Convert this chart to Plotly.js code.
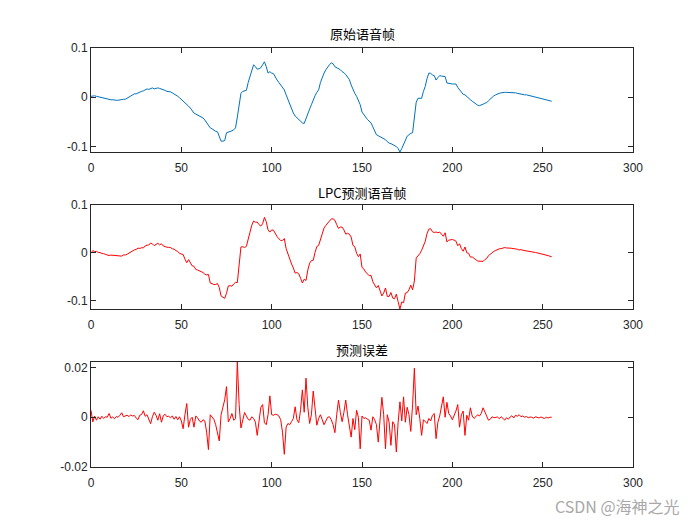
<!DOCTYPE html>
<html>
<head>
<meta charset="utf-8">
<script src="https://cdn.plot.ly/plotly-3.0.1.min.js"></script>
<style>html,body{margin:0;padding:0;background:#fff;}#chart{width:700px;height:525px;}</style>
</head>
<body>
<div id="chart"></div>
<script>
// sample index 0..255
var sampleIdx = [];
for (var k = 0; k < 256; k++) sampleIdx.push(k);

// 原始语音帧 (original frame)
var originalFrame = [
0.002,0.003,0.003,0.002,0.001,0.000,-0.001,-0.002,-0.003,-0.004,
-0.004,-0.005,-0.005,-0.006,-0.006,-0.006,-0.005,-0.005,-0.004,-0.004,
-0.002,0.000,0.002,0.004,0.007,0.007,0.009,0.010,0.012,0.013,
0.015,0.017,0.016,0.018,0.019,0.017,0.018,0.019,0.018,0.017,
0.015,0.014,0.012,0.012,0.011,0.009,0.007,0.005,0.002,-0.001,
-0.004,-0.008,-0.012,-0.015,-0.018,-0.022,-0.027,-0.032,-0.034,-0.036,
-0.039,-0.041,-0.042,-0.046,-0.052,-0.058,-0.062,-0.064,-0.067,-0.069,
-0.070,-0.082,-0.089,-0.089,-0.088,-0.072,-0.071,-0.069,-0.068,-0.066,
-0.062,-0.040,-0.019,0.008,0.012,0.013,0.014,0.030,0.042,0.058,
0.066,0.062,0.057,0.058,0.060,0.066,0.072,0.062,0.049,0.052,
0.049,0.048,0.040,0.035,0.030,0.025,0.020,0.015,0.005,-0.005,
-0.015,-0.025,-0.032,-0.038,-0.042,-0.046,-0.050,-0.052,-0.053,-0.042,
-0.032,-0.024,-0.015,-0.005,0.003,0.010,0.015,0.030,0.042,0.049,
0.056,0.062,0.066,0.070,0.068,0.062,0.060,0.058,0.056,0.052,
0.050,0.046,0.042,0.036,0.025,0.015,0.008,0.002,-0.008,-0.015,
-0.030,-0.034,-0.040,-0.045,-0.049,-0.052,-0.060,-0.068,-0.076,-0.078,
-0.080,-0.082,-0.083,-0.086,-0.090,-0.093,-0.094,-0.096,-0.099,-0.100,
-0.104,-0.111,-0.104,-0.096,-0.086,-0.079,-0.076,-0.073,-0.072,-0.039,
-0.010,-0.002,-0.002,-0.002,0.012,0.022,0.038,0.049,0.049,0.045,
0.044,0.035,0.040,0.044,0.043,0.043,0.042,0.029,0.028,0.028,
0.027,0.027,0.027,0.020,0.015,0.010,0.006,0.005,0.001,-0.002,
-0.005,-0.008,-0.011,-0.014,-0.016,-0.017,-0.016,-0.014,-0.012,-0.011,
-0.007,-0.003,0.000,0.003,0.005,0.007,0.008,0.009,0.010,0.010,
0.010,0.010,0.010,0.010,0.009,0.009,0.008,0.007,0.007,0.006,
0.005,0.005,0.004,0.003,0.003,0.002,0.001,0.000,-0.001,-0.002,
-0.003,-0.004,-0.005,-0.006,-0.007,-0.008
];

// LPC预测语音帧 (predicted frame)
var predictedFrame = [
-0.0008,0.0049,0.0025,0.0032,0.0008,0.0008,-0.0014,-0.0015,-0.0032,-0.0040,
-0.0055,-0.0046,-0.0051,-0.0054,-0.0063,-0.0060,-0.0058,-0.0068,-0.0042,-0.0044,
-0.0028,-0.0003,0.0011,0.0035,0.0063,0.0073,0.0100,0.0092,0.0109,0.0104,
0.0146,0.0160,0.0165,0.0206,0.0188,0.0150,0.0172,0.0202,0.0166,0.0190,
0.0144,0.0128,0.0118,0.0116,0.0112,0.0085,0.0078,0.0047,0.0030,-0.0012,
-0.0025,-0.0034,-0.0130,-0.0205,-0.0140,-0.0212,-0.0270,-0.0280,-0.0345,-0.0358,
-0.0375,-0.0390,-0.0410,-0.0445,-0.0460,-0.0450,-0.0630,-0.0642,-0.0662,-0.0660,
-0.0640,-0.0725,-0.0900,-0.0925,-0.0950,-0.0843,-0.0691,-0.0685,-0.0695,-0.0648,
-0.0615,-0.0622,-0.0240,0.0123,0.0130,0.0111,0.0135,0.0308,0.0432,0.0578,
0.0665,0.0640,0.0643,0.0590,0.0560,0.0609,0.0742,0.0650,0.0480,0.0434,
0.0480,0.0472,0.0388,0.0340,0.0295,0.0260,0.0260,0.0299,0.0090,-0.0025,
-0.0120,-0.0232,-0.0315,-0.0422,-0.0410,-0.0438,-0.0530,-0.0630,-0.0550,-0.0577,
-0.0360,-0.0215,-0.0160,-0.0155,0.0010,0.0132,0.0155,0.0290,0.0430,0.0520,
0.0575,0.0620,0.0658,0.0710,0.0710,0.0682,0.0590,0.0511,0.0540,0.0538,
0.0480,0.0391,0.0410,0.0390,0.0330,0.0155,0.0130,-0.0008,-0.0080,-0.0023,
-0.0305,-0.0335,-0.0398,-0.0442,-0.0478,-0.0468,-0.0602,-0.0670,-0.0730,-0.0680,
-0.0790,-0.0900,-0.0840,-0.0733,-0.0910,-0.0910,-0.0827,-0.0942,-0.0960,-0.0860,
-0.1020,-0.1172,-0.1025,-0.1042,-0.0840,-0.0830,-0.0770,-0.0673,-0.0770,-0.0587,
-0.0110,-0.0065,-0.0015,0.0053,0.0130,0.0240,0.0405,0.0495,0.0505,0.0442,
0.0425,0.0436,0.0420,0.0435,0.0390,0.0348,0.0420,0.0230,0.0265,0.0275,
0.0280,0.0265,0.0245,0.0149,0.0190,0.0090,0.0035,0.0123,0.0002,-0.0008,
-0.0088,-0.0085,-0.0105,-0.0142,-0.0170,-0.0175,-0.0175,-0.0178,-0.0140,-0.0118,
-0.0058,-0.0022,-0.0002,0.0032,0.0050,0.0069,0.0086,0.0088,0.0104,0.0112,
0.0102,0.0108,0.0099,0.0094,0.0093,0.0082,0.0076,0.0060,0.0068,0.0055,
0.0050,0.0047,0.0042,0.0029,0.0030,0.0024,0.0008,0.0000,-0.0007,-0.0021,
-0.0028,-0.0035,-0.0050,-0.0057,-0.0070,-0.0080
];

// 预测误差 (prediction error)
var predictionError = [
0.0028,-0.0019,0.0005,-0.0012,0.0002,-0.0008,0.0004,-0.0005,0.0002,0.0000,
0.0015,-0.0004,0.0001,-0.0006,0.0003,0.0000,0.0008,0.0018,0.0002,0.0004,
0.0008,0.0003,0.0009,0.0005,0.0007,-0.0003,-0.0010,0.0008,0.0011,0.0026,
0.0004,0.0010,-0.0005,-0.0026,0.0002,0.0020,0.0008,-0.0012,0.0014,-0.0020,
0.0006,0.0012,0.0002,0.0004,-0.0002,0.0005,-0.0008,0.0003,-0.0010,0.0002,
-0.0015,-0.0046,0.0010,0.0055,-0.0040,-0.0008,0.0000,-0.0040,0.0005,-0.0002,
-0.0015,-0.0020,-0.0010,-0.0015,-0.0060,-0.0130,0.0010,0.0002,-0.0008,-0.0030,
-0.0060,-0.0095,0.0010,0.0035,0.0070,0.0123,-0.0019,-0.0005,0.0015,-0.0012,
-0.0005,0.0222,0.0050,-0.0043,-0.0010,0.0019,0.0005,-0.0008,-0.0012,0.0002,
-0.0005,-0.0020,-0.0073,-0.0010,0.0040,0.0051,-0.0022,-0.0030,0.0010,0.0086,
0.0010,0.0008,0.0012,0.0010,0.0005,-0.0010,-0.0060,-0.0149,-0.0040,-0.0025,
-0.0030,-0.0018,-0.0005,0.0042,-0.0010,-0.0022,0.0030,0.0110,0.0020,0.0157,
0.0040,-0.0025,0.0010,0.0105,0.0020,-0.0032,-0.0005,0.0010,-0.0010,-0.0030,
-0.0015,0.0000,0.0002,-0.0010,-0.0030,-0.0062,0.0010,0.0069,0.0020,-0.0018,
0.0020,0.0069,0.0010,-0.0030,-0.0080,-0.0005,-0.0050,0.0028,0.0000,-0.0127,
0.0005,-0.0005,-0.0002,-0.0008,-0.0012,-0.0052,0.0002,-0.0010,-0.0030,-0.0100,
-0.0010,0.0080,0.0010,-0.0127,0.0010,-0.0020,-0.0113,-0.0018,-0.0030,-0.0140,
-0.0020,0.0062,-0.0015,0.0082,-0.0020,0.0040,0.0010,-0.0057,0.0050,0.0197,
0.0010,0.0045,-0.0005,-0.0073,-0.0010,-0.0020,-0.0025,-0.0005,-0.0015,0.0008,
0.0015,-0.0086,-0.0020,0.0005,0.0040,0.0082,0.0000,0.0060,0.0015,0.0005,
-0.0010,0.0005,0.0025,0.0051,-0.0040,0.0010,0.0025,-0.0073,0.0008,-0.0012,
0.0038,0.0005,-0.0005,0.0002,0.0010,0.0005,0.0015,0.0038,0.0020,0.0008,
-0.0012,-0.0008,0.0002,-0.0002,0.0000,0.0001,-0.0006,0.0002,-0.0004,-0.0012,
-0.0002,-0.0008,0.0001,0.0006,-0.0003,0.0008,0.0004,0.0010,0.0002,0.0005,
0.0000,0.0003,-0.0002,0.0001,0.0000,-0.0004,0.0002,0.0000,-0.0003,0.0001,
-0.0002,-0.0005,0.0000,-0.0003,0.0000,0.0000
];

var titles = ['原始语音帧', 'LPC预测语音帧', '预测误差'];
var xTickVals = [0, 50, 100, 150, 200, 250, 300];
var xTickText = ['0', '50', '100', '150', '200', '250', '300'];
var yTickVals1 = [-0.1, 0, 0.1];
var yTickText1 = ['-0.1', '0', '0.1'];
var yTickVals3 = [-0.02, 0, 0.02];
var yTickText3 = ['-0.02', '0', '0.02'];
var watermark = 'CSDN @海神之光';

var axisColor = '#262626';
var tickFont = {family: 'Liberation Sans, Arial, sans-serif', size: 12, color: axisColor};

function xAx(anchor) {
  return {
    anchor: anchor, range: [0, 300], tickvals: xTickVals, ticktext: xTickText,
    ticks: 'inside', ticklen: 5, tickcolor: axisColor, tickwidth: 1,
    showline: true, linecolor: axisColor, linewidth: 1, mirror: 'ticks',
    showgrid: false, zeroline: false, tickfont: tickFont, fixedrange: true,
    ticklabelstandoff: 5
  };
}
function yAx(anchor, domain, range, tv, tt) {
  return {
    anchor: anchor, domain: domain, range: range, tickvals: tv, ticktext: tt,
    ticks: 'inside', ticklen: 5, tickcolor: axisColor, tickwidth: 1,
    showline: true, linecolor: axisColor, linewidth: 1, mirror: 'ticks',
    showgrid: false, zeroline: false, tickfont: tickFont, fixedrange: true
  };
}

var traces = [
  {x: sampleIdx, y: originalFrame, type: 'scatter', mode: 'lines', line: {color: '#0072BD', width: 1}, xaxis: 'x', yaxis: 'y', hoverinfo: 'skip'},
  {x: sampleIdx, y: predictedFrame, type: 'scatter', mode: 'lines', line: {color: '#FF0000', width: 1}, xaxis: 'x2', yaxis: 'y2', hoverinfo: 'skip'},
  {x: sampleIdx, y: predictionError, type: 'scatter', mode: 'lines', line: {color: '#FF0000', width: 1}, xaxis: 'x3', yaxis: 'y3', hoverinfo: 'skip'}
];

var titleFont = {family: 'Noto Sans CJK SC, Liberation Sans, sans-serif', size: 13, color: '#000'};

var layout = {
  width: 700, height: 525,
  margin: {l: 91, r: 67, t: 48, b: 58},
  paper_bgcolor: '#ffffff', plot_bgcolor: '#ffffff',
  showlegend: false,
  xaxis: xAx('y'),
  yaxis: yAx('x', [0.7518, 1], [-0.111, 0.1], yTickVals1, yTickText1),
  xaxis2: xAx('y2'),
  yaxis2: yAx('x2', [0.3771, 0.6253], [-0.1172, 0.1], yTickVals1, yTickText1),
  xaxis3: xAx('y3'),
  yaxis3: yAx('x3', [0, 0.2506], [-0.02, 0.0222], yTickVals3, yTickText3),
  annotations: [
    {text: titles[0], xref: 'paper', yref: 'paper', x: 0.5, y: 1.034, xanchor: 'center', yanchor: 'middle', showarrow: false, font: titleFont},
    {text: titles[1], xref: 'paper', yref: 'paper', x: 0.5, y: 0.654, xanchor: 'center', yanchor: 'middle', showarrow: false, font: titleFont},
    {text: titles[2], xref: 'paper', yref: 'paper', x: 0.5, y: 0.2816, xanchor: 'center', yanchor: 'middle', showarrow: false, font: titleFont},
    {text: watermark, xref: 'paper', yref: 'paper', x: 0.9705, y: -0.093, xanchor: 'center', yanchor: 'middle', showarrow: false, font: {family: 'Noto Sans CJK SC, sans-serif', size: 16, color: '#a8a8a8'}}
  ]
};

Plotly.newPlot('chart', traces, layout, {displayModeBar: false, staticPlot: true});
</script>
</body>
</html>
